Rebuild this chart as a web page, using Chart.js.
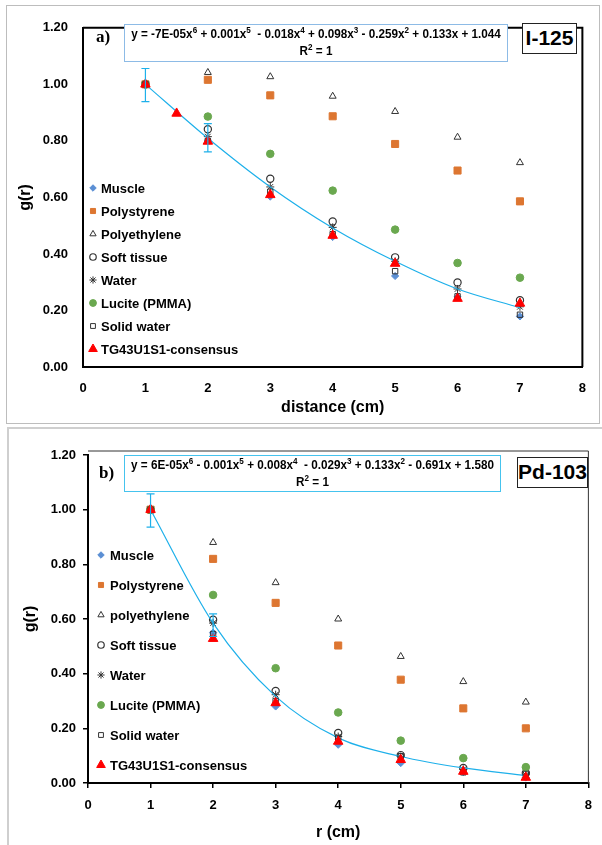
<!DOCTYPE html>
<html>
<head>
<meta charset="utf-8">
<script src="https://cdn.jsdelivr.net/npm/chart.js@4.4.0/dist/chart.umd.min.js"></script>
<style>
  body { margin: 0; background: #fff; width: 602px; height: 845px; position: relative; overflow: hidden; font-family: "Liberation Sans", Arial, sans-serif; }
  .frame { position: absolute; box-sizing: border-box; }
  #frame-a { left: 6px; top: 5px; width: 594px; height: 419px; border: 1px solid #bdbdbd; }
  #frame-b { left: 7px; top: 427px; width: 600px; height: 430px; border: 2px solid #cfcfcf; }
  canvas { position: absolute; }
  #chart-a { left: 6px; top: 5px; }
  #chart-b { left: 10px; top: 430px; }
  .tag { position: absolute; font: bold 17px "Liberation Serif", "Times New Roman", serif; }
  .eq { position: absolute; box-sizing: border-box; background: #fff; text-align: center; font: bold 13px "Liberation Sans", Arial, sans-serif; line-height: 17px; padding-top: 0px; }
  .eq div { white-space: nowrap; margin: 0 -40px; transform: scaleX(0.9); transform-origin: center; }
  .eq sup { font-size: 9px; line-height: 0; }
  .iso { position: absolute; box-sizing: border-box; background: #fff; border: 1.5px solid #222; text-align: center; font: bold 21px "Liberation Sans", Arial, sans-serif; }
</style>
</head>
<body>
<div class="frame" id="frame-a"></div>
<div class="frame" id="frame-b"></div>
<canvas id="chart-a" width="594" height="417"></canvas>
<canvas id="chart-b" width="592" height="415"></canvas>

<div class="tag" style="left:96px;top:27px;">a)</div>
<div class="eq" style="left:124px;top:24px;width:384px;height:38px;border:1.5px solid #8dbbe6;">
  <div>y = -7E-05x<sup>6</sup> + 0.001x<sup>5</sup> &nbsp;- 0.018x<sup>4</sup> + 0.098x<sup>3</sup> - 0.259x<sup>2</sup> + 0.133x + 1.044</div><div>R<sup>2</sup> = 1</div>
</div>
<div class="iso" style="left:522px;top:23px;width:55px;height:31px;line-height:28px;">I-125</div>

<div class="tag" style="left:99px;top:463px;">b)</div>
<div class="eq" style="left:124px;top:455px;width:377px;height:37px;border:1.5px solid #45c3ee;">
  <div>y = 6E-05x<sup>6</sup> - 0.001x<sup>5</sup> + 0.008x<sup>4</sup> &nbsp;- 0.029x<sup>3</sup> + 0.133x<sup>2</sup> - 0.691x + 1.580</div><div>R<sup>2</sup> = 1</div>
</div>
<div class="iso" style="left:517px;top:457px;width:71px;height:31px;line-height:28px;">Pd-103</div>

<script>
// distances (cm)
const distances = [1, 2, 3, 4, 5, 6, 7];
const consensusDistancesA = [1, 1.5, 2, 3, 4, 5, 6, 7];
const errorDistances = [1, 2];

const labelsA = ["Muscle", "Polystyrene", "Polyethylene", "Soft tissue", "Water", "Lucite (PMMA)", "Solid water", "TG43U1S1-consensus"];
const labelsB = ["Muscle", "Polystyrene", "polyethylene", "Soft tissue", "Water", "Lucite (PMMA)", "Solid water", "TG43U1S1-consensus"];

// a) I-125, g(r)
const muscleA = [1.00, 0.80, 0.603, 0.46, 0.322, 0.248, 0.179];
const polystyreneA = [1.00, 1.016, 0.961, 0.887, 0.789, 0.695, 0.586];
const polyethyleneA = [1.00, 1.042, 1.027, 0.958, 0.904, 0.813, 0.723];
const softTissueA = [1.00, 0.841, 0.666, 0.515, 0.388, 0.299, 0.236];
const waterA = [1.00, 0.815, 0.637, 0.494, 0.374, 0.276, 0.213];
const luciteA = [1.00, 0.886, 0.754, 0.624, 0.486, 0.368, 0.316];
const solidWaterA = [1.00, 0.80, 0.62, 0.47, 0.339, 0.25, 0.185];
const consensusA = [1.00, 0.897, 0.798, 0.609, 0.465, 0.366, 0.242, 0.225];
const trendA = [1.00, 0.809, 0.637, 0.492, 0.374, 0.276, 0.21];
const errLowA = [0.939, 0.761];
const errHighA = [1.056, 0.861];

// b) Pd-103, g(r)
const muscleB = [1.00, 0.55, 0.28, 0.14, 0.073, 0.04, 0.02];
const polystyreneB = [1.00, 0.82, 0.659, 0.503, 0.378, 0.273, 0.20];
const polyethyleneB = [1.00, 0.88, 0.733, 0.60, 0.463, 0.371, 0.296];
const softTissueB = [1.00, 0.597, 0.337, 0.183, 0.102, 0.055, 0.037];
const waterB = [1.00, 0.585, 0.323, 0.17, 0.097, 0.05, 0.03];
const luciteB = [1.00, 0.688, 0.42, 0.258, 0.155, 0.091, 0.058];
const solidWaterB = [1.00, 0.545, 0.30, 0.165, 0.098, 0.039, 0.033];
const consensusB = [1.00, 0.528, 0.293, 0.152, 0.085, 0.042, 0.02];
const trendB = [1.00, 0.585, 0.317, 0.165, 0.097, 0.055, 0.027];
const errLowB = [0.936, 0.536];
const errHighB = [1.058, 0.619];

const markerStyles = [
  { pointStyle: "rectRot", radius: 3.6, fill: "#5b8fd4", stroke: "#5b8fd4", width: 1 },
  { pointStyle: "rect", radius: 5, fill: "#dd7631", stroke: "#dd7631", width: 1 },
  { pointStyle: "triangle", radius: 4, fill: "rgba(255,255,255,0)", stroke: "#333333", width: 1 },
  { pointStyle: "circle", radius: 3.6, fill: "rgba(255,255,255,0)", stroke: "#333333", width: 1.2 },
  { pointStyle: "star", radius: 4, fill: "#333333", stroke: "#333333", width: 1 },
  { pointStyle: "circle", radius: 3.8, fill: "#6aa84f", stroke: "#6aa84f", width: 1 },
  { pointStyle: "rect", radius: 3.8, fill: "rgba(255,255,255,0)", stroke: "#333333", width: 1 },
  { pointStyle: "triangle", radius: 5.5, fill: "#ff0000", stroke: "#ff0000", width: 1 }
];

const trendColor = "#1eb0ea";
const boldFont = "\"Liberation Sans\", Arial, sans-serif";

function toPoints(xs, ys) {
  return xs.map((x, i) => ({ x, y: ys[i] }));
}

function makeDatasets(labels, series, trend) {
  const sets = series.map((s, i) => {
    const st = markerStyles[i];
    return {
      label: labels[i],
      data: toPoints(s.x, s.y),
      pointStyle: st.pointStyle,
      pointRadius: st.radius,
      backgroundColor: st.fill,
      borderColor: st.stroke,
      borderWidth: st.width,
      showLine: false,
      order: 20 - i
    };
  });
  sets.push({
    label: "trend",
    data: toPoints(distances, trend),
    showLine: true,
    borderColor: trendColor,
    borderWidth: 1.2,
    pointRadius: 0,
    cubicInterpolationMode: "monotone",
    fill: false,
    order: 14
  });
  return sets;
}

const frameLines = {
  id: "frameLines",
  afterDraw(chart, args, opts) {
    const { ctx, chartArea: a } = chart;
    ctx.save();
    ctx.strokeStyle = opts.color;
    ctx.lineWidth = opts.width;
    ctx.beginPath();
    ctx.moveTo(a.left, a.top - opts.raise);
    ctx.lineTo(a.right, a.top - opts.raise);
    ctx.lineTo(a.right, a.bottom);
    ctx.stroke();
    ctx.restore();
  }
};

const errorBars = {
  id: "errorBars",
  afterDatasetsDraw(chart, args, opts) {
    const { ctx, scales: { x, y } } = chart;
    ctx.save();
    ctx.strokeStyle = trendColor;
    ctx.lineWidth = 1.2;
    errorDistances.forEach((d, i) => {
      const px = x.getPixelForValue(d);
      const top = y.getPixelForValue(opts.high[i]);
      const bot = y.getPixelForValue(opts.low[i]);
      ctx.beginPath();
      ctx.moveTo(px, top); ctx.lineTo(px, bot);
      ctx.moveTo(px - 4, top); ctx.lineTo(px + 4, top);
      ctx.moveTo(px - 4, bot); ctx.lineTo(px + 4, bot);
      ctx.stroke();
    });
    ctx.restore();
  }
};

const insideLegend = {
  id: "insideLegend",
  afterDraw(chart, args, opts) {
    const ctx = chart.ctx;
    ctx.save();
    ctx.font = "bold 13px " + boldFont;
    ctx.textBaseline = "middle";
    markerStyles.forEach((st, i) => {
      const y = opts.top + i * opts.step;
      ctx.fillStyle = st.fill;
      ctx.strokeStyle = st.stroke;
      ctx.lineWidth = st.width;
      Chart.helpers.drawPoint(ctx, { pointStyle: st.pointStyle, radius: Math.min(st.radius, 4) * (i === 7 ? 1.25 : 0.9), borderWidth: st.width, rotation: 0 }, opts.left, y);
      ctx.fillStyle = "#000";
      ctx.fillText(chart.data.datasets[i].label, opts.textLeft, y + 1);
    });
    ctx.restore();
  }
};

function makeChart(id, p) {
  const tickFont = { family: boldFont, size: 13, weight: "bold" };
  return new Chart(document.getElementById(id), {
    type: "scatter",
    data: { datasets: p.datasets },
    options: {
      responsive: false,
      animation: false,
      events: [],
      layout: { padding: p.padding },
      plugins: {
        legend: { display: false },
        tooltip: { enabled: false },
        frameLines: p.frame,
        errorBars: p.errors,
        insideLegend: p.legend
      },
      scales: {
        x: {
          type: "linear", min: 0, max: 8,
          ticks: { stepSize: 1, color: "#000", font: tickFont, padding: p.xPad },
          grid: p.grid,
          border: { display: true, color: "#000", width: 2 },
          title: { display: true, text: p.xTitle, color: "#000", font: { family: boldFont, size: 16, weight: "bold" }, padding: { top: 0, bottom: p.xTitlePad } },
          afterFit(s) { s.height = p.xHeight; }
        },
        y: {
          type: "linear", min: 0, max: 1.2,
          ticks: { stepSize: 0.2, color: "#000", font: tickFont, padding: p.yPad, callback: (v) => v.toFixed(2) },
          grid: p.grid,
          border: { display: true, color: "#000", width: 2 },
          title: { display: true, text: "g(r)", color: "#000", font: { family: boldFont, size: 16, weight: "bold" }, padding: { top: p.yTitlePad, bottom: 0 } },
          afterFit(s) { s.width = p.yWidth; }
        }
      }
    },
    plugins: [frameLines, errorBars, insideLegend]
  });
}

const seriesA = [muscleA, polystyreneA, polyethyleneA, softTissueA, waterA, luciteA, solidWaterA]
  .map((y) => ({ x: distances, y }))
  .concat([{ x: consensusDistancesA, y: consensusA }]);
const seriesB = [muscleB, polystyreneB, polyethyleneB, softTissueB, waterB, luciteB, solidWaterB, consensusB]
  .map((y) => ({ x: distances, y }));

makeChart("chart-a", {
  datasets: makeDatasets(labelsA, seriesA, trendA),
  padding: { top: 13, right: 12, bottom: 0, left: 0 },
  grid: { display: false, drawTicks: false },
  xPad: 14, yPad: 15, xHeight: 55, yWidth: 77, xTitlePad: 5, yTitlePad: 10,
  xTitle: "distance (cm)",
  frame: { color: "#000", width: 2, raise: 0 },
  errors: { low: errLowA, high: errHighA },
  legend: { left: 87, textLeft: 95, top: 183, step: 23 }
});

makeChart("chart-b", {
  datasets: makeDatasets(labelsB, seriesB, trendB),
  padding: { top: 25, right: 5, bottom: 0, left: 0 },
  grid: { display: true, drawOnChartArea: false, drawTicks: true, tickLength: 5, color: "#000", lineWidth: 1.5 },
  xPad: 10, yPad: 7, xHeight: 62, yWidth: 78, xTitlePad: 3, yTitlePad: 11,
  xTitle: "r (cm)",
  frame: { color: "#333", width: 1, raise: 4 },
  errors: { low: errLowB, high: errHighB },
  legend: { left: 91, textLeft: 100, top: 125, step: 30 }
});
</script>
</body>
</html>
